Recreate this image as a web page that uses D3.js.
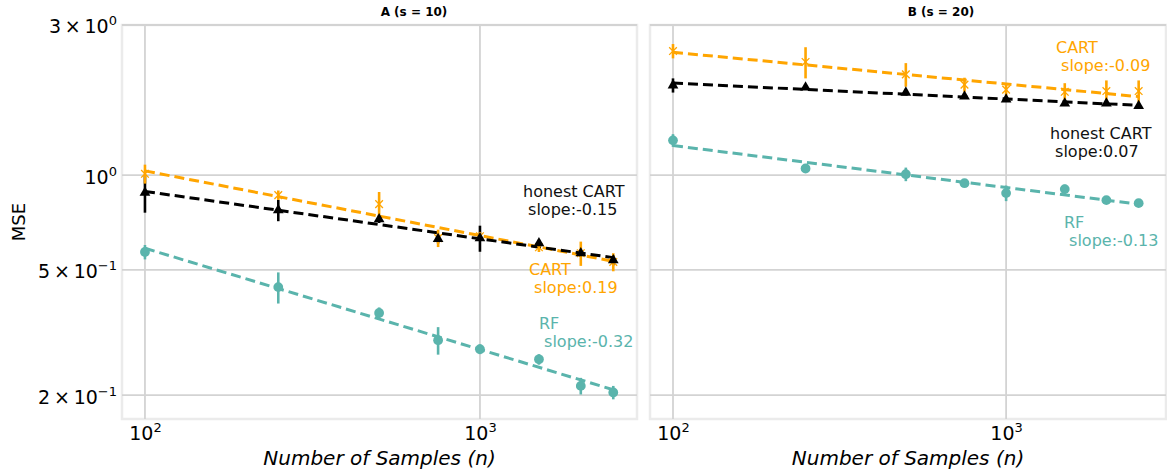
<!DOCTYPE html>
<html>
<head>
<meta charset="utf-8">
<script src="https://cdn.jsdelivr.net/npm/d3@7"></script>
<style>
  body { margin: 0; background: #fff; }
  text { font-family: "DejaVu Sans", sans-serif; }
</style>
</head>
<body>
<div id="chart"></div>
<script>
'use strict'

// sample sizes (x) shared by both panels
const nSamples = [100, 250, 500, 750, 1000, 1500, 2000, 2500];

// panel A (s = 10)
const cartMseA   = [1.01, 0.864, 0.809, 0.631, 0.64, 0.59, 0.565, 0.53];
const cartSdA    = [0.07, 0.03, 0.075, 0.04, 0.02, 0.02, 0.05, 0.035];
const honestMseA = [0.88, 0.774, 0.725, 0.627, 0.631, 0.608, 0.565, 0.537];
const honestSdA  = [0.12, 0.06, 0.02, 0.02, 0.06, 0.015, 0.015, 0.02];
const rfMseA     = [0.570, 0.441, 0.365, 0.299, 0.280, 0.260, 0.214, 0.204];
const rfSdA      = [0.03, 0.05, 0.015, 0.03, 0.01, 0.01, 0.013, 0.01];

// panel B (s = 20)
const cartMseB   = [2.48, 2.29, 2.09, 1.94, 1.87, 1.84, 1.85, 1.85];
const cartSdB    = [0.13, 0.26, 0.18, 0.1, 0.08, 0.12, 0.15, 0.15];
const honestMseB = [1.93, 1.90, 1.83, 1.78, 1.74, 1.69, 1.69, 1.66];
const honestSdB  = [0.1, 0.03, 0.02, 0.02, 0.03, 0.02, 0.02, 0.02];
const rfMseB     = [1.29, 1.05, 1.007, 0.943, 0.877, 0.903, 0.833, 0.815];
const rfSdB      = [0.06, 0.03, 0.05, 0.015, 0.05, 0.03, 0.015, 0.01];

const panelTitles = ["A (s = 10)", "B (s = 20)"];
const modelNames  = ["CART", "honest CART", "RF"];
const slopeTextA  = ["0.19", "-0.15", "-0.32"];
const slopeTextB  = ["-0.09", "0.07", "-0.13"];

const yTickValues = [3, 1, 0.5, 0.2];
const yTickMant   = ["3", "", "5", "2"];
const yTickExp    = ["0", "0", "\u22121", "\u22121"];
const xTickValues = [100, 1000];
const xTickExp    = ["2", "3"];

const w = 1167, h = 469;
const colors = { "CART": "#ffa500", "honest CART": "#000000", "RF": "#5ab4ac" };

const svg = d3.select("#chart").append("svg")
  .attr("width", w).attr("height", h)
  .style("background", "#fff");

//Panels layout
const panels = [
  { left: 122, right: 637, titleX: 414, xDomain: [85.4, 2943],
    series: [
      { name: modelNames[0], mse: cartMseA, sd: cartSdA, slope: slopeTextA[0], lx: 529, ly: 275 },
      { name: modelNames[1], mse: honestMseA, sd: honestSdA, slope: slopeTextA[1], lx: 523, ly: 197 },
      { name: modelNames[2], mse: rfMseA, sd: rfSdA, slope: slopeTextA[2], lx: 539, ly: 329 }
    ] },
  { left: 650, right: 1166, titleX: 941, xDomain: [85.3, 3020],
    series: [
      { name: modelNames[0], mse: cartMseB, sd: cartSdB, slope: slopeTextB[0], lx: 1056, ly: 53 },
      { name: modelNames[1], mse: honestMseB, sd: honestSdB, slope: slopeTextB[1], lx: 1050, ly: 139 },
      { name: modelNames[2], mse: rfMseB, sd: rfSdB, slope: slopeTextB[2], lx: 1064, ly: 228 }
    ] }
];

const plotTop = 25, plotBottom = 419;
const y = d3.scaleLog().domain([0.168, 3.0]).range([plotBottom, plotTop]);

// least squares fit in log-log space
function fitLine(xs, ys) {
  const lx = xs.map(Math.log10), ly = ys.map(Math.log10);
  const mx = d3.mean(lx), my = d3.mean(ly);
  const b = d3.sum(lx, (v, i) => (v - mx) * (ly[i] - my)) / d3.sum(lx, v => (v - mx) * (v - mx));
  const a = my - b * mx;
  const x0 = xs[0], x1 = xs[xs.length - 1];
  return [[x0, Math.pow(10, a + b * Math.log10(x0))], [x1, Math.pow(10, a + b * Math.log10(x1))]];
}

const xSym = d3.symbolTimes || d3.symbolCross;

panels.forEach((p, pi) => {
  const x = d3.scaleLog().domain(p.xDomain).range([p.left, p.right]);
  const g = svg.append("g");

  // frame
  g.append("rect")
    .attr("x", p.left).attr("y", plotTop)
    .attr("width", p.right - p.left).attr("height", plotBottom - plotTop)
    .attr("fill", "none").attr("stroke", "#ebebeb").attr("stroke-width", 2.5);

  // grid
  g.selectAll(".hgrid").data(yTickValues).enter().append("line")
    .attr("x1", p.left).attr("x2", p.right)
    .attr("y1", d => y(d)).attr("y2", d => y(d))
    .attr("stroke", "#d3d3d3").attr("stroke-width", 1.8);
  g.selectAll(".vgrid").data(xTickValues).enter().append("line")
    .attr("x1", d => x(d)).attr("x2", d => x(d))
    .attr("y1", plotTop).attr("y2", plotBottom)
    .attr("stroke", "#d3d3d3").attr("stroke-width", 1.8);

  // x axis
  const xAxis = d3.axisBottom(x).tickValues(xTickValues).tickSize(0).tickPadding(0).tickFormat("");
  const gx = g.append("g").attr("transform", "translate(0," + plotBottom + ")").call(xAxis);
  gx.select(".domain").remove();
  gx.selectAll(".tick text").each(function(d, i) {
    const t = d3.select(this).attr("y", 21).attr("dy", null)
      .attr("fill", "#000").style("font-size", "19px").attr("text-anchor", "middle");
    t.append("tspan").text("10");
    t.append("tspan").attr("dy", -8).style("font-size", "13px").text(xTickExp[i]);
  });

  g.append("text")
    .attr("x", (p.left + p.right) / 2).attr("y", 465)
    .attr("text-anchor", "middle").style("font-size", "20px").style("font-style", "italic")
    .text("Number of Samples (n)");

  // y axis only on the first panel
  if (pi === 0) {
    const yAxis = d3.axisLeft(y).tickValues(yTickValues).tickSize(0).tickPadding(5).tickFormat("");
    const gy = g.append("g").attr("transform", "translate(" + p.left + ",0)").call(yAxis);
    gy.select(".domain").remove();
    gy.selectAll(".tick text").each(function(d, i) {
      const t = d3.select(this).attr("fill", "#000").style("font-size", "19px")
        .attr("dy", "0.42em");
      if (yTickMant[i]) t.append("tspan").text(yTickMant[i] + "\u2009\u00d7\u2009");
      t.append("tspan").text("10");
      t.append("tspan").attr("dy", -8).style("font-size", "13px").text(yTickExp[i]);
    });
    svg.append("text")
      .attr("transform", "translate(25," + ((plotTop + plotBottom) / 2) + ") rotate(-90)")
      .attr("text-anchor", "middle").style("font-size", "18px")
      .text("MSE");
  }

  // title
  g.append("text").attr("x", p.titleX).attr("y", 16)
    .attr("text-anchor", "middle").style("font-size", "12px").style("font-weight", "bold")
    .text(panelTitles[pi]);

  // fit lines
  p.series.forEach(s => {
    const fit = fitLine(nSamples, s.mse);
    g.append("path")
      .attr("d", d3.line().x(d => x(d[0])).y(d => y(d[1]))(fit))
      .attr("fill", "none").attr("stroke", colors[s.name])
      .attr("stroke-width", 3).attr("stroke-dasharray", "10,5");
  });

  // error bars (honest, CART, RF order)
  [1, 0, 2].forEach(k => {
    const s = p.series[k];
    g.selectAll(null).data(nSamples).enter().append("line")
      .attr("x1", d => x(d)).attr("x2", d => x(d))
      .attr("y1", (d, i) => y(s.mse[i] - s.sd[i]))
      .attr("y2", (d, i) => y(s.mse[i] + s.sd[i]))
      .attr("stroke", colors[s.name]).attr("stroke-width", 2.6);
  });

  // markers
  p.series.forEach(s => {
    const pts = g.selectAll(null).data(nSamples).enter().append("path")
      .attr("transform", (d, i) => "translate(" + x(d) + "," + y(s.mse[i]) + ")");
    if (s.name === "CART") {
      pts.attr("d", d3.symbol(xSym, 40)()).attr("fill", "none")
        .attr("stroke", colors[s.name]).attr("stroke-width", 1.3);
    } else if (s.name === "honest CART") {
      pts.attr("d", d3.symbol(d3.symbolTriangle, 50)()).attr("fill", colors[s.name]);
    } else {
      pts.attr("d", d3.symbol(d3.symbolCircle, 75)()).attr("fill", colors[s.name]);
    }
  });

  // annotations
  p.series.forEach(s => {
    const t = g.append("text").attr("fill", colors[s.name] === "#000000" ? "#111" : colors[s.name])
      .style("font-size", "16px");
    t.append("tspan").attr("x", s.lx).attr("y", s.ly).text(s.name);
    t.append("tspan").attr("x", s.lx).attr("dy", 18).text("\u00a0slope:" + s.slope);
  });
});
</script>
</body>
</html>
